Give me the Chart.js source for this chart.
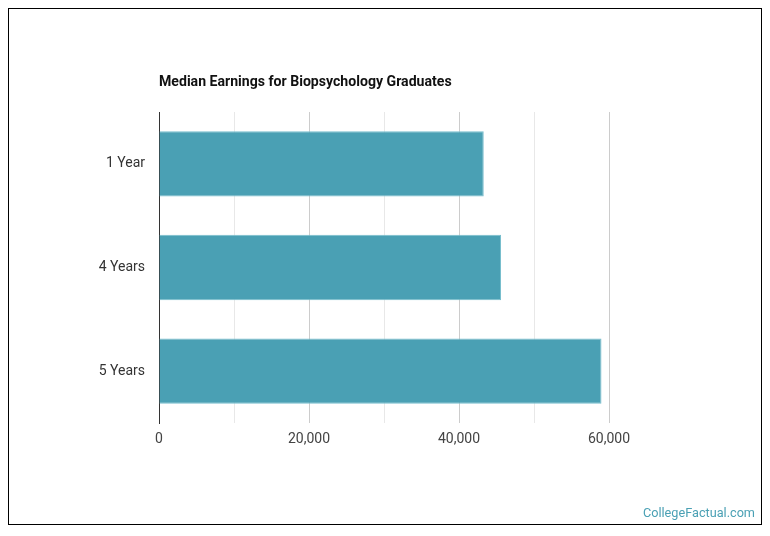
<!DOCTYPE html>
<html>
<head>
<meta charset="utf-8">
<script src="https://cdn.jsdelivr.net/npm/chart.js@4/dist/chart.umd.min.js"></script>
<style>
html,body{margin:0;padding:0;background:#fff;}
#wrap{width:770px;height:536px;position:relative;}
</style>
</head>
<body>
<div id="wrap"><canvas id="c" width="770" height="536"></canvas></div>
<script>
const chartTitle = "Median Earnings for Biopsychology Graduates";
const categories = ["1 Year", "4 Years", "5 Years"];
const earnings = [43300, 45600, 59000];
const xTicks = [0, 20000, 40000, 60000];
const watermark = "CollegeFactual.com";

const decor = {
  id: 'decor',
  afterDraw(chart) {
    const ctx = chart.ctx;
    const a = chart.chartArea;
    ctx.save();
    ctx.strokeStyle = '#000';
    ctx.lineWidth = 1;
    ctx.strokeRect(8.5, 8.5, 753, 516);
    ctx.fillStyle = '#111';
    ctx.font = 'bold 14.1px Roboto';
    ctx.textAlign = 'left';
    ctx.textBaseline = 'middle';
    ctx.fillText(chartTitle, a.left, 82);
    ctx.fillStyle = '#4aa0b4';
    ctx.font = '12.7px Roboto';
    ctx.textAlign = 'right';
    ctx.fillText(watermark, 755, 514);
    ctx.restore();
  }
};

new Chart(document.getElementById('c'), {
  type: 'bar',
  data: {
    labels: categories,
    datasets: [{
      data: earnings,
      backgroundColor: 'rgb(74,160,180)',
      borderColor: 'rgba(120,190,205,1)',
      borderWidth: 1,
      borderSkipped: 'start',
      barPercentage: 0.63,
      categoryPercentage: 1
    }]
  },
  options: {
    indexAxis: 'y',
    responsive: false,
    animation: false,
    devicePixelRatio: 1,
    layout: { padding: { top: 112, left: 8, right: 161, bottom: 73 } },
    plugins: { legend: { display: false }, tooltip: { enabled: false }, title: { display: false } },
    scales: {
      x: {
        min: 0, max: 60000,
        afterFit(s) { s.height = 40; },
        border: { display: false },
        grid: {
          drawTicks: false,
          color(ctx) {
            const v = ctx.tick ? ctx.tick.value : 0;
            if (v === 0) return 'rgba(0,0,0,0)';
            return v % 20000 === 0 ? '#cccccc' : '#e8e8e8';
          },
          lineWidth: 1
        },
        ticks: {
          stepSize: 10000,
          padding: 8,
          color: '#444',
          font: { family: 'Roboto', size: 14 },
          callback(v) { return xTicks.includes(v) ? v.toLocaleString('en-US') : ''; }
        }
      },
      y: {
        afterFit(s) { s.width = 151; },
        border: { display: true, color: '#333', width: 1 },
        grid: { display: false, drawTicks: false },
        ticks: { padding: 14, color: '#333', font: { family: 'Roboto', size: 14 } }
      }
    }
  },
  plugins: [decor]
});
</script>
</body>
</html>
